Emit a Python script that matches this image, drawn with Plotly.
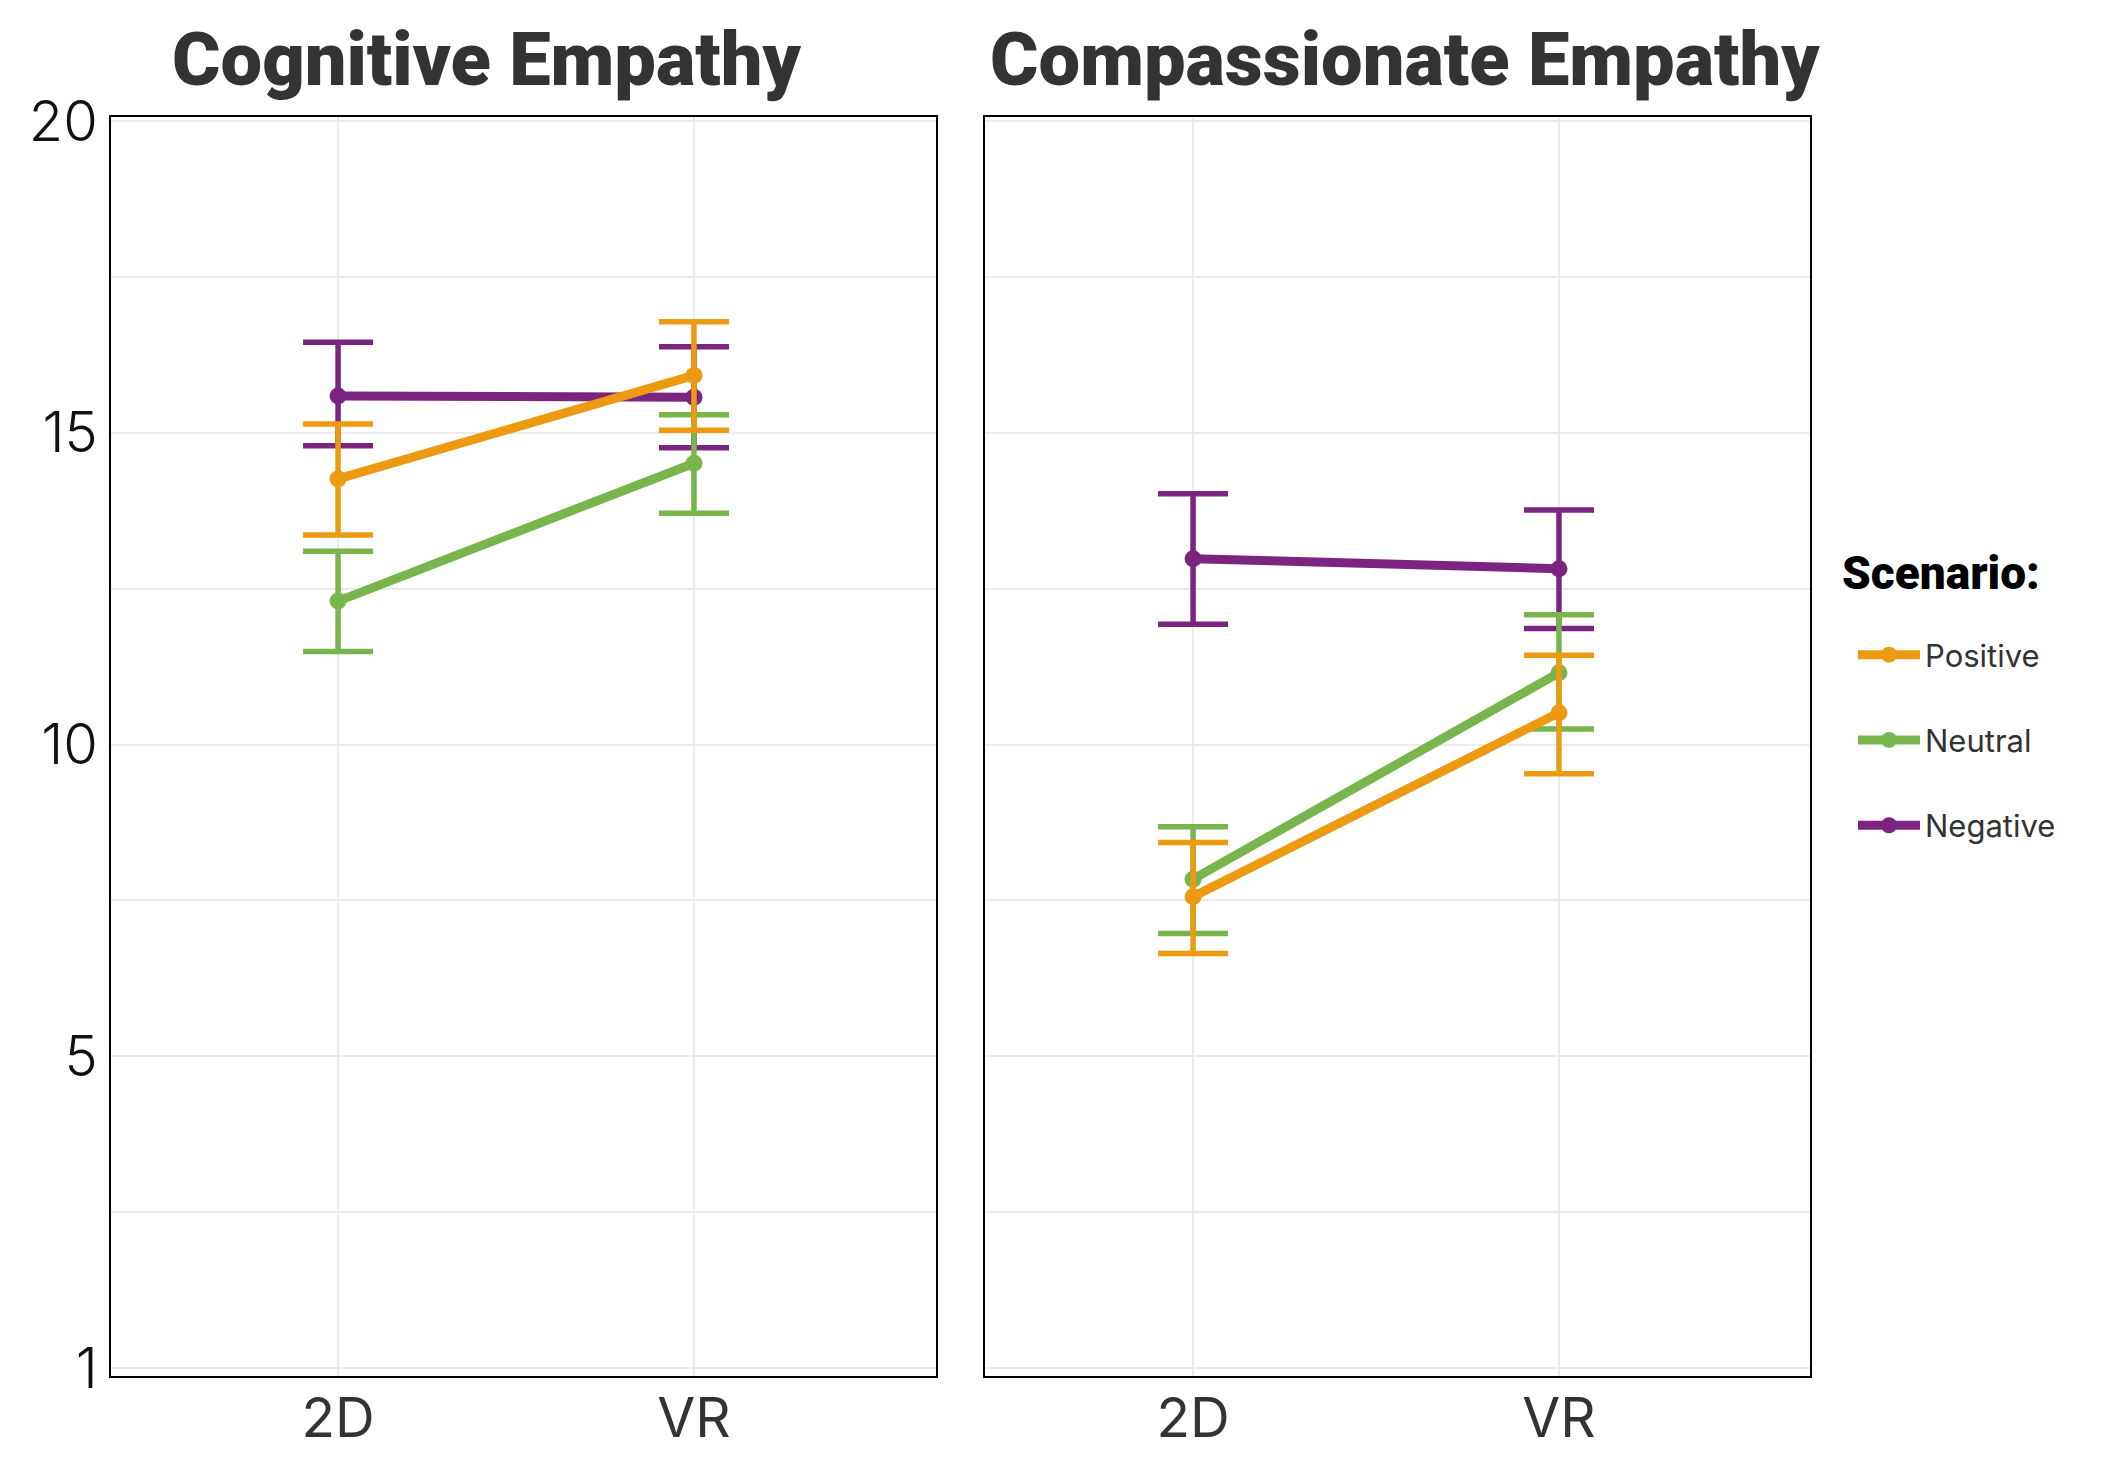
import plotly.graph_objects as go

# ---------------- data ----------------
conditions = ["2D", "VR"]
scenarios = ["Positive", "Neutral", "Negative"]
panel_titles = ["Cognitive Empathy", "Compassionate Empathy"]
legend_title = "Scenario:"
y_tickvals = [0, 5, 10, 15, 20]
y_ticktext = ["1", "5", "10", "15", "20"]
y_minor_vals = [2.5, 7.5, 12.5, 17.5]

# Cognitive empathy: means and 95% CI bounds (2D, VR)
cog_positive_mean = [14.26, 15.92]
cog_positive_low = [13.36, 15.04]
cog_positive_high = [15.14, 16.78]
cog_neutral_mean = [12.30, 14.51]
cog_neutral_low = [11.49, 13.71]
cog_neutral_high = [13.10, 15.29]
cog_negative_mean = [15.59, 15.57]
cog_negative_low = [14.79, 14.76]
cog_negative_high = [16.45, 16.38]

# Compassionate empathy
com_positive_mean = [7.56, 10.51]
com_positive_low = [6.65, 9.53]
com_positive_high = [8.43, 11.43]
com_neutral_mean = [7.84, 11.15]
com_neutral_low = [6.97, 10.25]
com_neutral_high = [8.68, 12.08]
com_negative_mean = [12.98, 12.82]
com_negative_low = [11.93, 11.86]
com_negative_high = [14.02, 13.76]

colors = {"Positive": "#EC9A12", "Neutral": "#78B54C", "Negative": "#7B2480"}

panels = [
    {
        "Positive": (cog_positive_mean, cog_positive_low, cog_positive_high),
        "Neutral": (cog_neutral_mean, cog_neutral_low, cog_neutral_high),
        "Negative": (cog_negative_mean, cog_negative_low, cog_negative_high),
    },
    {
        "Positive": (com_positive_mean, com_positive_low, com_positive_high),
        "Neutral": (com_neutral_mean, com_neutral_low, com_neutral_high),
        "Negative": (com_negative_mean, com_negative_low, com_negative_high),
    },
]

W, H = 2126, 1475
fig = go.Figure()

draw_order = ["Negative", "Neutral", "Positive"]
rank = {"Positive": 1, "Neutral": 2, "Negative": 3}

for p, pdata in enumerate(panels):
    xa = "x" if p == 0 else "x2"
    ya = "y" if p == 0 else "y2"
    for s in draw_order:
        mean, low, high = pdata[s]
        fig.add_trace(go.Scatter(
            x=conditions, y=mean, xaxis=xa, yaxis=ya,
            mode="lines+markers", name=s,
            legendgroup=s, showlegend=(p == 0), legendrank=rank[s],
            line=dict(color=colors[s], width=9),
            marker=dict(color=colors[s], size=17),
            error_y=dict(type="data", symmetric=False,
                         array=[h - m for h, m in zip(high, mean)],
                         arrayminus=[m - l for m, l in zip(mean, low)],
                         color=colors[s], thickness=5.5, width=35),
        ))

# ---------------- layout ----------------
dom_y = [1 - 1368 / H, 1 - 109 / H]
dom_x1 = [103 / W, 928 / W]
dom_x2 = [976.5 / W, 1802 / W]

grid_col = "#EBEBEB"
common_x = dict(type="category", showgrid=True, gridcolor=grid_col, gridwidth=2,
                showline=True, mirror=True, linecolor="black", linewidth=2,
                ticks="", ticklen=0, zeroline=False, automargin=False,
                tickfont=dict(family="Inter", size=55, color="#333333"),
                ticklabelstandoff=-7)
common_y = dict(range=[-0.128, 20.064], tickvals=y_tickvals, ticktext=y_ticktext,
                showgrid=True, gridcolor=grid_col, gridwidth=2,
                minor=dict(tickvals=y_minor_vals, showgrid=True, gridcolor=grid_col, gridwidth=2),
                showline=True, mirror=True, linecolor="black", linewidth=2,
                ticks="", ticklen=0, zeroline=False, automargin=False,
                tickfont=dict(family="Inter", size=56, color="#111111", weight=300),
                ticklabelstandoff=0)

fig.update_layout(
    width=W, height=H,
    margin=dict(l=0, r=0, t=0, b=0, autoexpand=False),
    paper_bgcolor="white", plot_bgcolor="white",
    xaxis=dict(common_x, domain=dom_x1, range=[-0.638, 1.680], anchor="y"),
    yaxis=dict(common_y, domain=dom_y, anchor="x", showticklabels=True),
    xaxis2=dict(common_x, domain=dom_x2, range=[-0.570, 1.686], anchor="y2"),
    yaxis2=dict(common_y, domain=dom_y, anchor="x2", showticklabels=False),
    showlegend=True,
    legend=dict(
        x=1845 / W, y=1 - 620 / H, xanchor="left", yanchor="top",
        font=dict(family="Inter", size=31, color="#333333"),
        tracegroupgap=42, itemwidth=62, bgcolor="rgba(0,0,0,0)",
    ),
    annotations=[
        dict(text=panel_titles[0], x=478 / W, y=1 - 51 / H, xref="paper", yref="paper",
             showarrow=False, xanchor="center", yanchor="middle",
             font=dict(family="Roboto", size=74, color="#333333", weight=900)),
        dict(text=panel_titles[1], x=1397 / W, y=1 - 51 / H, xref="paper", yref="paper",
             showarrow=False, xanchor="center", yanchor="middle",
             font=dict(family="Roboto", size=74, color="#333333", weight=900)),
        dict(text=legend_title, x=1832 / W, y=1 - 565 / H, xref="paper", yref="paper",
             showarrow=False, xanchor="left", yanchor="middle",
             font=dict(family="Roboto", size=46, color="black", weight=900)),
    ],
)

fig.write_html("out.html")
